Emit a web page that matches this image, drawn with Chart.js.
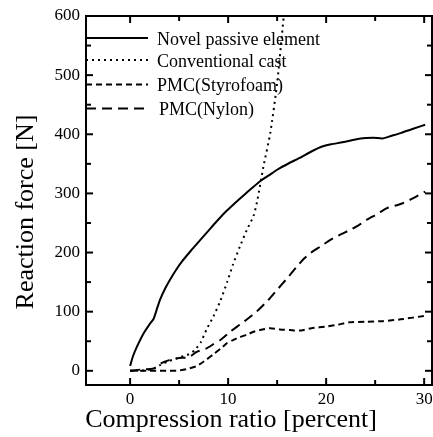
<!DOCTYPE html>
<html>
<head>
<meta charset="utf-8">
<script src="https://cdn.jsdelivr.net/npm/chart.js@4.4.1/dist/chart.umd.min.js"></script>
<style>
  body { margin: 0; background: #fff; }
  #wrap { width: 433px; height: 437px; }
</style>
</head>
<body>
<div id="wrap"><canvas id="myChart" width="433" height="437"></canvas></div>
<script>
// tick values
const xMajorTicks = [0, 10, 20, 30];
const xMinorTicks = [5, 15, 25];
const yMajorTicks = [0, 100, 200, 300, 400, 500, 600];
const yMinorTicks = [50, 150, 250, 350, 450, 550];

const seriesNames = ['Novel passive element', 'Conventional cast', 'PMC(Styrofoam)', 'PMC(Nylon)'];
const xTitle = 'Compression ratio [percent]';
const yTitle = 'Reaction force [N]';

// Novel passive element (solid)
const novelX = [0, 0.3, 0.7, 1.4, 2.0, 2.4, 2.8, 3.1, 3.6, 4.1, 4.7, 5.3, 6.2, 7.1, 8.0, 8.8, 9.7, 10.6, 11.6, 12.5, 13.3, 14.2, 15.0, 16.2, 17.3, 18.4, 19.4, 20.5, 21.5, 22.4, 23.5, 24.8, 25.8, 26.6, 27.6, 28.8, 30.1];
const novelY = [8, 25, 41, 64, 79, 88, 108, 122, 140, 155, 171, 185, 203, 220, 237, 252, 268, 282, 297, 310, 321, 331, 340, 351, 360, 370, 378, 383, 386, 389, 393, 394, 393, 397, 402, 409, 416];

// Conventional cast (dotted)
const castX = [0, 1.0, 2.0, 2.6, 3.1, 3.9, 5.1, 6.0, 6.6, 7.2, 7.8, 8.5, 9.2, 9.9, 10.5, 11.2, 11.9, 12.6, 13.0, 13.6, 14.3, 15.0, 15.5, 15.8];
const castY = [0, 0, 2, 5, 10, 16, 23, 28, 35, 48, 70, 92, 118, 150, 180, 210, 238, 262, 290, 345, 402, 486, 570, 620];

// PMC(Styrofoam) (short dash)
const styroX = [0, 1, 2, 3, 4, 4.8, 5.8, 6.8, 7.8, 8.5, 9.2, 9.9, 10.5, 11.2, 11.9, 12.6, 13.5, 14.3, 15.3, 16.3, 17.3, 18.5, 20.1, 21.2, 22.4, 24.1, 25.8, 27.6, 30.1];
const styroY = [0, 0, 0, 0, 0, 0, 3, 8, 19, 28, 37, 47, 52, 57, 61, 66, 70, 72, 70, 69, 68, 72, 75, 78, 82, 83, 84, 87, 93];

// PMC(Nylon) (long dash)
const nylonX = [0, 1.0, 2.4, 3.2, 4.0, 4.8, 5.3, 6.0, 6.8, 7.8, 8.5, 9.2, 10.2, 11.2, 12.0, 12.9, 14.0, 15.0, 16.0, 17.0, 17.7, 18.4, 19.4, 20.4, 21.4, 22.4, 23.3, 24.2, 25.2, 26.2, 27.6, 28.9, 30.1];
const nylonY = [0, 2, 4, 13, 18, 21, 22, 23, 32, 38, 45, 52, 66, 78, 88, 100, 118, 137, 156, 176, 189, 199, 210, 221, 230, 238, 246, 256, 265, 275, 282, 292, 303];

const pts = (xs, ys) => xs.map((x, i) => ({x: x, y: ys[i]}));
const dashes = [[], [2, 4], [6, 4], [10, 6]];
const seriesData = [pts(novelX, novelY), pts(castX, castY), pts(styroX, styroY), pts(nylonX, nylonY)];

const FONT = "'Liberation Serif', 'DejaVu Serif', serif";
Chart.defaults.font.family = FONT;
Chart.defaults.color = '#000';

const frame = {
  id: 'frame',
  afterDraw(chart) {
    const {ctx, chartArea: a, scales: {x, y}} = chart;
    ctx.save();
    ctx.strokeStyle = '#000';
    ctx.fillStyle = '#000';
    ctx.lineWidth = 2;
    ctx.setLineDash([]);
    ctx.strokeRect(a.left, a.top, a.right - a.left, a.bottom - a.top);

    function seg(x1, y1, x2, y2) {
      ctx.beginPath(); ctx.moveTo(x1, y1); ctx.lineTo(x2, y2); ctx.stroke();
    }
    function xt(vals, len) {
      vals.forEach(v => {
        const p = x.getPixelForValue(v);
        seg(p, a.bottom, p, a.bottom - len);
        seg(p, a.top, p, a.top + len);
      });
    }
    function yt(vals, len) {
      vals.forEach(v => {
        const p = y.getPixelForValue(v);
        seg(a.left, p, a.left + len, p);
        seg(a.right, p, a.right - len, p);
      });
    }
    xt(xMajorTicks, 7); xt(xMinorTicks, 5);
    yt(yMajorTicks, 7); yt(yMinorTicks, 5);

    // legend
    const rows = [38, 60, 84.5, 108.5];
    ctx.font = '18px ' + FONT;
    ctx.textBaseline = 'alphabetic';
    ctx.textAlign = 'left';
    chart.data.datasets.forEach((ds, i) => {
      ctx.setLineDash(ds.borderDash);
      ctx.lineWidth = ds.borderWidth;
      seg(a.left, rows[i], a.left + 62, rows[i]);
      ctx.setLineDash([]);
      ctx.fillText(ds.label, i === 3 ? 159 : 157, rows[i] + 6.5);
    });

    // axis titles
    ctx.font = '26px ' + FONT;
    ctx.textAlign = 'center';
    ctx.fillText(xTitle, 231, 427);
    ctx.translate(33, 212);
    ctx.rotate(-Math.PI / 2);
    ctx.fillText(yTitle, 0, 0);
    ctx.restore();
  }
};

const cfg = {
  type: 'scatter',
  data: {
    datasets: seriesData.map((d, i) => ({
      label: seriesNames[i],
      data: d,
      showLine: true,
      borderColor: '#000',
      borderWidth: 2,
      borderDash: dashes[i],
      pointRadius: 0,
      tension: 0.2,
      fill: false
    }))
  },
  options: {
    responsive: false,
    animation: false,
    layout: { padding: { top: 16, right: 1, left: 0, bottom: 0 } },
    plugins: { legend: { display: false }, tooltip: { enabled: false } },
    scales: {
      x: {
        type: 'linear',
        min: -4.5,
        max: 30.8,
        grid: { display: false, drawTicks: false },
        border: { display: false },
        ticks: { font: { size: 17 }, padding: 4, maxRotation: 0, includeBounds: false },
        afterBuildTicks: s => { s.ticks = xMajorTicks.map(v => ({value: v})); },
        afterFit: s => { s.height = 52; s.paddingLeft = 0; s.paddingRight = 0; }
      },
      y: {
        type: 'linear',
        min: -24,
        max: 600,
        grid: { display: false, drawTicks: false },
        border: { display: false },
        ticks: { font: { size: 17 }, padding: 6, includeBounds: false },
        afterBuildTicks: s => { s.ticks = yMajorTicks.map(v => ({value: v})); },
        afterFit: s => { s.width = 86; s.paddingTop = 0; s.paddingBottom = 0; }
      }
    }
  },
  plugins: [frame]
};

const ctx = document.getElementById('myChart');
let cht = new Chart(ctx, cfg);
</script>
</body>
</html>
